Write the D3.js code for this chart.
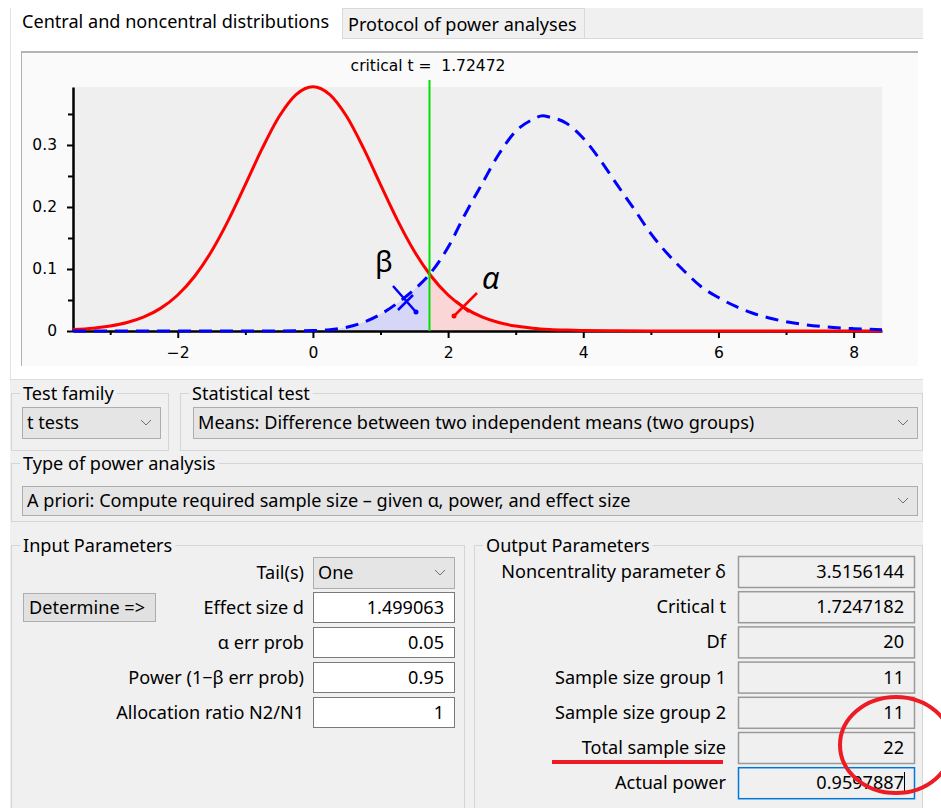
<!DOCTYPE html>
<html>
<head>
<meta charset="utf-8">
<script src="https://cdn.jsdelivr.net/npm/d3@7"></script>
<style>
body { margin: 0; background: #fff; }
svg text { font-family: "Noto Sans", "Open Sans", sans-serif; fill: #000; }
</style>
</head>
<body>
<svg id="chart" width="941" height="808"></svg>
<script>
const CRIT_T = 1.72472;

const centralX = [-3.55, -3.25, -3, -2.75, -2.5, -2.25, -2, -1.75, -1.5, -1.25, -1, -0.75, -0.5, -0.25, 0,
                  0.25, 0.5, 0.75, 1, 1.25, 1.5, 1.72472, 1.75, 2, 2.25, 2.5, 2.75, 3, 3.25, 3.5, 3.75, 4, 4.5, 5, 6, 7, 8.42];
const centralY = [0.0023, 0.0046, 0.0080, 0.0136, 0.0227, 0.0369, 0.0581, 0.0883, 0.1286, 0.1788, 0.2360, 0.2944, 0.3458, 0.3813, 0.3940,
                  0.3813, 0.3458, 0.2944, 0.2360, 0.1788, 0.1286, 0.0919, 0.0883, 0.0581, 0.0369, 0.0227, 0.0136, 0.0080, 0.0046, 0.0026, 0.0015, 0.0008, 0.0003, 0.0001, 0, 0, 0];

const noncentralX = [-3.55, -1, -0.5, 0, 0.25, 0.5, 0.75, 1, 1.25, 1.5, 1.72472, 2, 2.25, 2.5, 2.75, 3, 3.25, 3.4, 3.5, 3.75,
                     4, 4.25, 4.5, 4.75, 5, 5.25, 5.5, 5.75, 6, 6.25, 6.5, 6.75, 7, 7.5, 8, 8.42];
const noncentralY = [0, 0, 0.0001, 0.0008, 0.002, 0.006, 0.014, 0.027, 0.045, 0.067, 0.0915, 0.135, 0.188, 0.237, 0.285, 0.322, 0.341, 0.347, 0.345, 0.335,
                     0.311, 0.276, 0.236, 0.197, 0.157, 0.124, 0.096, 0.071, 0.054, 0.040, 0.029, 0.021, 0.015, 0.0075, 0.0038, 0.002];

const xTicks = [-2, 0, 2, 4, 6, 8];
const xMinorTicks = [-3, -1, 1, 3, 5, 7];
const yTicks = [0, 0.1, 0.2, 0.3];
const yMinorTicks = [0.05, 0.15, 0.25, 0.35];

// dialog texts
const tabNames = ["Central and noncentral distributions", "Protocol of power analyses"];
const testFamily = "t tests";
const statisticalTest = "Means: Difference between two independent means (two groups)";
const analysisType = "A priori: Compute required sample size – given α, power, and effect size";
const inputLabels = ["Tail(s)", "Effect size d", "α err prob", "Power (1−β err prob)", "Allocation ratio N2/N1"];
const inputValues = ["One", "1.499063", "0.05", "0.95", "1"];
const outputLabels = ["Noncentrality parameter δ", "Critical t", "Df", "Sample size group 1", "Sample size group 2", "Total sample size", "Actual power"];
const outputValues = ["3.5156144", "1.7247182", "20", "11", "11", "22", "0.9597887"];

const svg = d3.select("#chart");
const FS = 18.1;
const PLOT_FONT = "\"DejaVu Sans\", Verdana, sans-serif";

function rect(x0, y0, w, h, fill, stroke, sw) {
    return svg.append("rect").attr("x", x0).attr("y", y0).attr("width", w).attr("height", h)
        .attr("fill", fill).attr("stroke", stroke || "none").attr("stroke-width", sw || 1);
}
function text(t, x0, y0, anchor, size) {
    return svg.append("text").attr("x", x0).attr("y", y0)
        .attr("text-anchor", anchor || "start")
        .style("font-size", (size || FS) + "px").text(t);
}
function chevron(cx, cy) {
    svg.append("path").attr("d", `M${cx - 5},${cy - 2.5}L${cx},${cy + 2.5}L${cx + 5},${cy - 2.5}`)
        .attr("fill", "none").attr("stroke", "#707070").attr("stroke-width", 1);
}
function groupBox(x0, y0, x1, y1, title) {
    rect(x0 + 0.5, y0 + 0.5, x1 - x0, y1 - y0, "none", "#d5d5d5");
    const bg = svg.append("rect").attr("fill", "#f0f0f0");
    const t = text(title, x0 + 12, y0 + 7);
    const w = t.node().getComputedTextLength();
    bg.attr("x", x0 + 9).attr("y", y0 - 7).attr("width", w + 6).attr("height", 14);
}
function combo(x0, y0, w, h, t) {
    rect(x0 + 0.5, y0 + 0.5, w, h, "#e5e5e5", "#adadad");
    text(t, x0 + 5, y0 + h / 2 + 6);
    chevron(x0 + w - 14, y0 + h / 2);
}

// ---------- tabs + outer frame ----------
svg.append("line").attr("x1", 10.5).attr("x2", 10.5).attr("y1", 8).attr("y2", 380).attr("stroke", "#e3e3e3");
rect(584, 8, 339, 30, "#f0f0f0");
svg.append("line").attr("x1", 342).attr("x2", 923).attr("y1", 38.5).attr("y2", 38.5).attr("stroke", "#dadada");
rect(342.5, 8.5, 242, 30, "#f0f0f0", "#d9d9d9");
text(tabNames[0], 22, 28);
text(tabNames[1], 348, 31);

// chart panel
rect(21, 51, 897, 315, "#fafafa");
svg.append("line").attr("x1", 21).attr("x2", 918).attr("y1", 52).attr("y2", 52).attr("stroke", "#b4b4b4").attr("stroke-width", 2);
svg.append("line").attr("x1", 21.5).attr("x2", 21.5).attr("y1", 51).attr("y2", 366).attr("stroke", "#b0b0b0");

// ---------- distribution plot ----------
const x = d3.scaleLinear().domain([-3.55, 8.42]).range([73, 882]);
const y = d3.scaleLinear().domain([0, 0.3935]).range([331, 87]);

rect(x(-3.55), y(0.3935), x(8.42) - x(-3.55), y(0) - y(0.3935), "#efefef");

const central = centralX.map((v, i) => [v, centralY[i]]);
const noncentral = noncentralX.map((v, i) => [v, noncentralY[i]]);

const area = d3.area().x(d => x(d[0])).y0(y(0)).y1(d => y(d[1])).curve(d3.curveMonotoneX);
const line = d3.line().x(d => x(d[0])).y(d => y(d[1])).curve(d3.curveMonotoneX);

svg.append("path").attr("d", area(noncentral.filter(d => d[0] <= CRIT_T))).attr("fill", "#d6d6f7");
svg.append("path").attr("d", area(central.filter(d => d[0] >= CRIT_T))).attr("fill", "#fbd6d6");

// axes
svg.append("g").attr("transform", `translate(0,${y(0)})`)
    .call(d3.axisBottom(x).tickValues(xTicks).tickSize(7).tickSizeOuter(0).tickPadding(9).tickFormat(d => d < 0 ? "−" + Math.abs(d) : d));
svg.append("g").attr("transform", `translate(0,${y(0)})`)
    .call(d3.axisBottom(x).tickValues(xMinorTicks).tickSize(4).tickSizeOuter(0).tickFormat(""))
    .select(".domain").remove();
svg.append("g").attr("transform", `translate(${x(-3.55)},0)`)
    .call(d3.axisLeft(y).tickValues(yTicks).tickSize(6).tickSizeOuter(0).tickPadding(10).tickFormat(d => d === 0 ? "0" : d3.format(".1f")(d)));
svg.append("g").attr("transform", `translate(${x(-3.55)},0)`)
    .call(d3.axisLeft(y).tickValues(yMinorTicks).tickSize(5).tickSizeOuter(0).tickFormat(""))
    .select(".domain").remove();
svg.selectAll(".domain").attr("stroke", "#000").attr("stroke-width", 2.5);
svg.selectAll(".tick line").attr("stroke", "#000").attr("stroke-width", 2);
svg.selectAll(".tick text").style("font-size", "15.5px").style("font-family", PLOT_FONT).attr("fill", "#111");

// curves
svg.append("path").attr("d", line(central)).attr("fill", "none").attr("stroke", "#ff0000").attr("stroke-width", 3);
svg.append("path").attr("d", line(noncentral)).attr("fill", "none").attr("stroke", "#0000ff")
    .attr("stroke-width", 3).attr("stroke-dasharray", "13,8");

// critical t line
svg.append("line").attr("x1", x(CRIT_T)).attr("x2", x(CRIT_T)).attr("y1", 80).attr("y2", y(0))
    .attr("stroke", "#00e000").attr("stroke-width", 2);
text("critical t =  " + CRIT_T, 428, 71, "middle", 15.5)
    .style("font-family", PLOT_FONT).style("white-space", "pre").attr("fill", "#222");

// beta / alpha markers
const blue = "#0000ff", red = "#ff0000";
svg.append("path").attr("d", "M393,286L416,312M398,310L413,295").attr("stroke", blue).attr("stroke-width", 2.5).attr("fill", "none");
svg.append("circle").attr("cx", 416).attr("cy", 312).attr("r", 2.5).attr("fill", blue);
text("β", 375, 272, "start", 29).attr("fill", blue);
svg.append("path").attr("d", "M477,293L454,316M456,301L469,312").attr("stroke", red).attr("stroke-width", 2.5).attr("fill", "none");
svg.append("circle").attr("cx", 454).attr("cy", 316).attr("r", 2.5).attr("fill", red);
text("α", 482, 289, "start", 31).attr("fill", red).style("font-style", "italic");

// ---------- controls area ----------
rect(10, 379, 913, 429, "#f0f0f0");
svg.append("line").attr("x1", 10).attr("x2", 923).attr("y1", 379.5).attr("y2", 379.5).attr("stroke", "#dcdcdc");

groupBox(11, 393, 168, 450, "Test family");
combo(22, 407, 138, 31, testFamily);
groupBox(180, 393, 922, 450, "Statistical test");
combo(193, 407, 724, 31, statisticalTest);

groupBox(11, 463, 922, 521, "Type of power analysis");
combo(22, 486, 895, 29, analysisType);

groupBox(11, 545, 464, 830, "Input Parameters");
groupBox(474, 545, 922, 830, "Output Parameters");

// input rows
inputLabels.forEach((lab, i) => {
    const top = 557 + i * 35;
    text(lab, 304, top + 22, "end");
    if (i === 0) {
        combo(313, top, 141, 31, inputValues[i]);
    } else {
        rect(313.5, top + 0.5, 141, 30, "#fff", "#7a7a7a");
        text(inputValues[i], 444, top + 22, "end");
    }
});
rect(23.5, 593.5, 132, 28, "#e1e1e1", "#adadad");
text("Determine =>", 29, 614);

// output rows
outputLabels.forEach((lab, i) => {
    const top = 556 + i * 35.2;
    text(lab, 726, top + 22, "end");
    const last = i === outputLabels.length - 1;
    rect(738.5, top + 0.5, 176, 31, "#f0f0f0", last ? "#0078d7" : "#9a9a9a", 1.5);
    text(outputValues[i], 904, top + 22, "end");
});
svg.append("line").attr("x1", 904.5).attr("x2", 904.5).attr("y1", 772).attr("y2", 793).attr("stroke", "#000");

// highlight marks
rect(552, 760, 171, 4, "#ed1c24");
svg.append("ellipse").attr("cx", 896).attr("cy", 745).attr("rx", 56).attr("ry", 48)
    .attr("fill", "none").attr("stroke", "#ed1c24").attr("stroke-width", 4);
</script>
</body>
</html>
